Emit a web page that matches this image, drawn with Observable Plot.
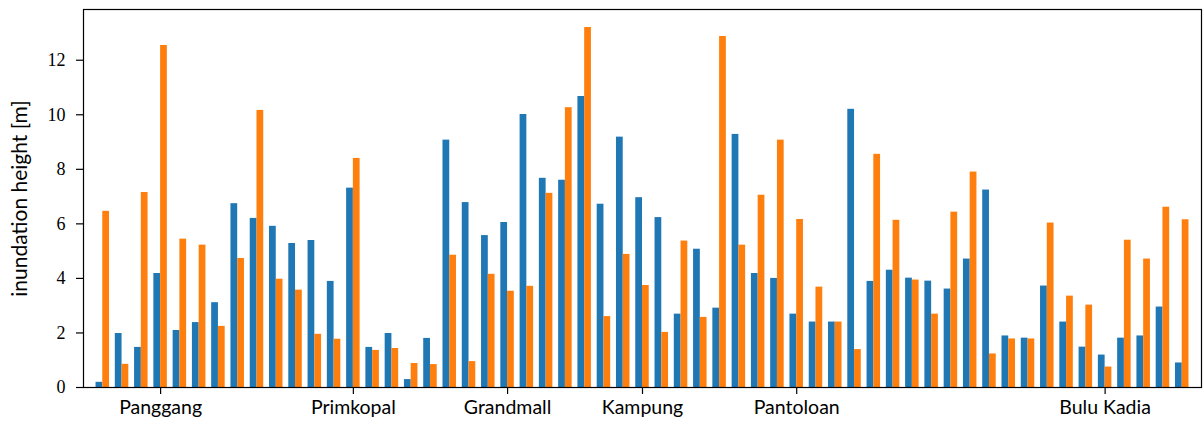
<!DOCTYPE html>
<html>
<head>
<meta charset="utf-8">
<script src="https://cdn.jsdelivr.net/npm/d3@7"></script>
<script src="https://cdn.jsdelivr.net/npm/@observablehq/plot@0.6"></script>
<style>
  html, body { margin: 0; padding: 0; background: #fff; color: #000; }
  #chart { width: 1204px; height: 424px; }
</style>
</head>
<body>
<div id="chart"></div>
<script>
// Inundation heights per survey point (two series)
const seriesA = [0.19, 1.98, 1.47, 4.18, 2.09, 2.38, 3.11, 6.74, 6.20, 5.91,
  5.28, 5.39, 3.89, 7.31, 1.47, 1.98, 0.29, 1.80, 9.07, 6.78,
  5.57, 6.05, 10.01, 7.67, 7.60, 10.67, 6.72, 9.18, 6.96, 6.23,
  2.69, 5.07, 2.91, 9.28, 4.18, 4.00, 2.69, 2.40, 2.40, 10.20,
  3.89, 4.30, 4.01, 3.90, 3.61, 4.71, 7.24, 1.89, 1.81, 3.72,
  2.40, 1.48, 1.19, 1.81, 1.89, 2.95, 0.90];
const seriesB = [6.46, 0.85, 7.15, 12.54, 5.44, 5.22, 2.24, 4.73, 10.16, 3.97,
  3.57, 1.95, 1.77, 8.40, 1.36, 1.43, 0.88, 0.84, 4.85, 0.95,
  4.15, 3.53, 3.71, 7.12, 10.26, 13.20, 2.60, 4.88, 3.74, 2.02,
  5.37, 2.57, 12.87, 5.22, 7.05, 9.07, 6.16, 3.68, 2.40, 1.39,
  8.55, 6.13, 3.94, 2.69, 6.43, 7.90, 1.23, 1.78, 1.78, 6.03,
  3.35, 3.02, 0.75, 5.40, 4.71, 6.61, 6.15];
const tickPositions = [3, 13, 21, 28, 36, 52];
const tickLabels = ["Panggang", "Primkopal", "Grandmall", "Kampung", "Pantoloan", "Bulu Kadia"];
const yTicks = [0, 2, 4, 6, 8, 10, 12];

const W = 0.35;
const rows = [];
seriesA.forEach((v, i) => rows.push({i, v, s: "A"}));
seriesB.forEach((v, i) => rows.push({i, v, s: "B"}));
const labelOf = new Map(tickPositions.map((p, k) => [p, tickLabels[k]]));

const chart = Plot.plot({
  width: 1204,
  height: 424,
  marginLeft: 83,
  marginRight: 3,
  marginTop: 9,
  marginBottom: 37,
  x: {type: "linear", domain: [-1, 57]},
  y: {domain: [0, 13.86]},
  color: {domain: ["A", "B"], range: ["#1f77b4", "#ff7f0e"]},
  marks: [
    Plot.rectY(rows, {
      x1: d => d.s === "A" ? d.i - W : d.i,
      x2: d => d.s === "A" ? d.i : d.i + W,
      y1: 0,
      y2: "v",
      fill: "s"
    }),
    Plot.axisY({
      ticks: yTicks,
      tickSize: 7,
      tickPadding: 11,
      tickFormat: d => String(d),
      fontSize: 18,
      fontFamily: "Liberation Serif",
      label: null,
      strokeWidth: 1.2
    }),
    Plot.axisX({
      ticks: tickPositions,
      tickSize: 7,
      tickPadding: 6,
      tickFormat: d => labelOf.get(d),
      fontSize: 19.5,
      fontFamily: "Lato",
      label: null,
      strokeWidth: 1.2
    }),
    Plot.text(["inundation height [m]"], {
      frameAnchor: "left",
      textAnchor: "middle",
      dx: -63,
      rotate: -90,
      fontSize: 21,
      fontFamily: "Lato",
      fill: "black"
    }),
    Plot.frame({stroke: "black", strokeWidth: 1.2})
  ]
});
chart.querySelectorAll('g[aria-label="y-axis tick label"] text').forEach(t => {
  t.style.fontFamily = '"Liberation Serif", serif';
});
document.getElementById("chart").appendChild(chart);
</script>
</body>
</html>
